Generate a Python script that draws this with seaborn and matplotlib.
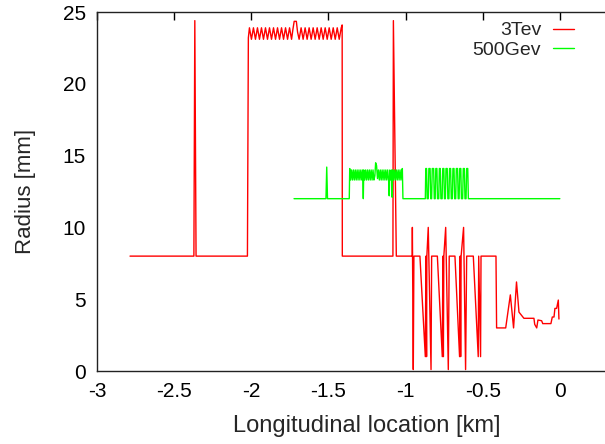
import matplotlib
matplotlib.use("Agg")
import matplotlib.pyplot as plt
import seaborn as sns
import pandas as pd

# ── Data ──────────────────────────────────────────────────────────────────────
series_names = ['3Tev', '500Gev']
series_colors = ['#ff0000', '#00ff00']

tev3_x = [
    -2.786, -2.372, -2.366, -2.358, -2.025, -2.019,
    -2.012, -1.999, -1.986, -1.973, -1.960, -1.947, -1.934, -1.921, -1.908, -1.895, -1.882,
    -1.869, -1.856, -1.843, -1.830, -1.817, -1.804, -1.791, -1.778, -1.765, -1.752, -1.739,
    -1.730, -1.722, -1.708, -1.700,
    -1.690, -1.677, -1.664, -1.651, -1.638, -1.625, -1.612, -1.599, -1.586, -1.573, -1.560,
    -1.547, -1.534, -1.521, -1.508, -1.495, -1.482, -1.469, -1.456, -1.443, -1.430, -1.417,
    -1.411, -1.410,
    -1.082, -1.079, -1.060,
    -0.957, -0.956, -0.950, -0.946,
    -0.907, -0.872, -0.868, -0.864, -0.862, -0.853, -0.835, -0.831,
    -0.794, -0.762, -0.758, -0.755, -0.752, -0.740, -0.723, -0.717,
    -0.680, -0.650, -0.646, -0.643, -0.640, -0.624, -0.611, -0.604,
    -0.561, -0.529, -0.526, -0.514, -0.511, -0.414, -0.410,
    -0.351, -0.321, -0.300, -0.281, -0.265, -0.233, -0.168, -0.163, -0.150, -0.142, -0.118,
    -0.111, -0.058, -0.049, -0.038, -0.032, -0.021, -0.010, -0.006,
]
tev3_y = [
    8, 8, 24.4, 8, 8, 23.2,
    23.9, 23.1, 23.9, 23.1, 23.9, 23.1, 23.9, 23.1, 23.9, 23.1, 23.9,
    23.1, 23.9, 23.1, 23.9, 23.1, 23.9, 23.1, 23.9, 23.1, 23.9, 23.1,
    23.8, 24.35, 24.35, 23.6,
    23.1, 23.9, 23.1, 23.9, 23.1, 23.9, 23.1, 23.9, 23.1, 23.9, 23.1,
    23.9, 23.1, 23.9, 23.1, 23.9, 23.1, 23.9, 23.1, 23.9, 23.1, 23.9,
    24.1, 8,
    8, 24.4, 8,
    8, 10, 0.1, 8,
    8, 1, 8, 1, 8, 10, 0.1, 8,
    8, 1, 8, 1, 8, 10, 0.1, 8,
    8, 1, 8, 1, 8, 10, 0.1, 8,
    8, 1, 8, 1, 8, 8, 3.0,
    3.0, 5.3, 3.0, 6.2, 4.1, 3.67, 3.67, 3.25, 3.0, 3.55, 3.5,
    3.3, 3.3, 3.76, 3.76, 4.36, 4.36, 4.94, 3.62,
]

gev500_x = [
    -1.723, -1.516, -1.511, -1.506,
    -1.365, -1.362, -1.356, -1.350, -1.344, -1.338, -1.332, -1.326, -1.320, -1.314, -1.308,
    -1.302, -1.296, -1.290, -1.284, -1.278, -1.274, -1.271, -1.265, -1.259, -1.253, -1.247,
    -1.241, -1.235, -1.229, -1.223, -1.217, -1.211, -1.205, -1.199, -1.194, -1.188, -1.182,
    -1.176, -1.170, -1.164, -1.158, -1.152, -1.146, -1.140, -1.134, -1.128, -1.122, -1.116,
    -1.110, -1.106, -1.102, -1.096, -1.090, -1.087, -1.084, -1.078, -1.072, -1.066, -1.060,
    -1.054, -1.048, -1.042, -1.036, -1.030, -1.024, -1.021, -1.017,
    -0.872, -0.869, -0.864, -0.860, -0.853, -0.849, -0.841, -0.837, -0.831, -0.827, -0.818,
    -0.814, -0.808, -0.804, -0.797, -0.793, -0.785, -0.781, -0.775, -0.771, -0.763, -0.759,
    -0.752, -0.748, -0.742, -0.738, -0.730, -0.726, -0.719, -0.715, -0.708, -0.704, -0.697,
    -0.693, -0.686, -0.682, -0.675, -0.671, -0.663, -0.659, -0.653, -0.649, -0.642, -0.638,
    -0.630, -0.626, -0.619, -0.615, -0.608, -0.604, -0.597, -0.593, -0.588,
    -0.585, 0.0,
]
gev500_y = [
    12, 12, 14.2, 12,
    12, 14.1, 13.3, 14.0, 13.3, 14.0, 13.3, 14.0, 13.3, 14.0, 13.3,
    14.0, 13.3, 14.0, 13.3, 14.0, 12.0, 14.0, 13.3, 14.0, 13.3, 14.0,
    13.3, 14.0, 13.3, 14.0, 13.3, 14.0, 13.3, 13.6, 14.5, 14.3, 13.4,
    14.0, 13.3, 14.0, 13.3, 14.0, 13.3, 14.0, 13.3, 14.0, 13.3, 14.0,
    13.3, 12.2, 14.0, 13.3, 14.0, 12.1, 14.0, 13.3, 14.0, 13.3, 14.0,
    13.3, 14.0, 13.3, 14.0, 13.3, 14.0, 14.1, 12.0,
    12, 14.1, 14.1, 12, 12, 14.1, 14.1, 12, 12, 14.1, 14.1,
    12, 12, 14.1, 14.1, 12, 12, 14.1, 14.1, 12, 12, 14.1,
    14.1, 12, 12, 14.1, 14.1, 12, 12, 14.1, 14.1, 12, 12,
    14.1, 14.1, 12, 12, 14.1, 14.1, 12, 12, 14.1, 14.1, 12,
    12, 14.1, 14.1, 12, 12, 14.1, 14.1, 12, 12,
    12, 12,
]

x_ticks = [-3, -2.5, -2, -1.5, -1, -0.5, 0, 0.5]
x_tick_labels = ['-3', '-2.5', '-2', '-1.5', '-1', '-0.5', '0', '']
y_ticks = [0, 5, 10, 15, 20, 25]
y_tick_labels = ['0', '5', '10', '15', '20', '25']

df = pd.concat([
    pd.DataFrame({'x': tev3_x, 'y': tev3_y, 'beam': series_names[0]}),
    pd.DataFrame({'x': gev500_x, 'y': gev500_y, 'beam': series_names[1]}),
], ignore_index=True)

# ── Plot ──────────────────────────────────────────────────────────────────────
sns.set_style("white")
plt.rcParams['font.family'] = ['Liberation Sans', 'DejaVu Sans']

fig = plt.figure(figsize=(6.05, 4.44), dpi=100)
# the reference is cropped on the right, so the axes runs past the figure edge
ax = fig.add_axes([97 / 605, 73 / 444, 540 / 605, 359 / 444])

sns.lineplot(data=df, x='x', y='y', hue='beam', hue_order=series_names,
             palette=dict(zip(series_names, series_colors)),
             sort=False, estimator=None, units='beam', linewidth=1.0, ax=ax)

ax.set_xlim(-3, 0.5)
ax.set_ylim(0, 25)
ax.set_xticks(x_ticks)
ax.set_xticklabels(x_tick_labels)
ax.set_yticks(y_ticks)
ax.set_yticklabels(y_tick_labels)
ax.tick_params(direction='in', top=True, right=True, length=6, width=1,
               labelsize=15, colors='black', pad=8)
for s in ax.spines.values():
    s.set_color('#222222')
    s.set_linewidth(1.0)

ax.set_xlabel('Longitudinal location [km]', fontsize=17, labelpad=10)
ax.set_ylabel('Radius [mm]', fontsize=16, labelpad=19)

handles, labels = ax.get_legend_handles_labels()
ax.legend(handles, labels, loc='upper right', bbox_to_anchor=(487 / 540, 1.0),
          markerfirst=False, frameon=False, fontsize=14, handlelength=1.1,
          handletextpad=0.6, labelspacing=0.12, borderaxespad=0, borderpad=0.5)

fig.savefig('out.png', dpi=100)
